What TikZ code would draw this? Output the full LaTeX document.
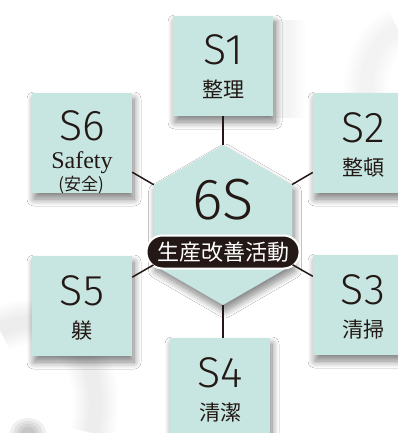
\documentclass[tikz,border=0pt]{standalone}
\usepackage{fontspec}
\setmainfont{Fira Sans Light}
\newfontfamily\cjk{Noto Sans CJK JP}
\newfontfamily\serif{Liberation Serif}
\usetikzlibrary{shapes.geometric,shadows.blur}
\definecolor{mint}{RGB}{199,230,225}
\definecolor{ink}{RGB}{35,24,21}

\begin{document}
\begin{tikzpicture}[x=1pt,y=-1pt,
    soft/.style={blur shadow={shadow xshift=2pt, shadow yshift=-6pt, shadow blur radius=7pt,
      shadow blur steps=12, shadow opacity=50}},
    sbox/.style={fill=mint, minimum width=100pt, minimum height=100pt, inner sep=0pt, soft},
    sname/.style={font=\fontsize{43}{43}\selectfont, text=ink, inner sep=0pt, text height=30pt, text depth=0pt},
    kanji/.style={font=\cjk\fontsize{21}{21}\selectfont, text=ink, inner sep=0pt, text height=17pt, text depth=1pt},
    link/.style={draw=ink, line width=1.5pt}]

    \useasboundingbox (0,0) rectangle (398,433);
    \fill[white] (0,0) rectangle (398,433);

    % faint shapes behind
    \foreach \w in {44,38,32,26,20,14} {
      \draw[line width=\w pt, black, opacity=0.012] (0,330) .. controls (60,300) and (110,360) .. (92,433);
      \draw[line width=\w pt, black, opacity=0.009] (375,140) .. controls (355,90) and (370,40) .. (398,30);
      \draw[line width=\w pt, black, opacity=0.008] (283,20) -- (283,118);
    }
    \foreach \w in {30,24,18,12} {
      \fill[black, opacity=0.06] (28,433) ellipse ({\w*0.6} and \w*0.5);
    }

    % centre
    \node[regular polygon, regular polygon sides=6, shape border rotate=30, minimum size=160pt,
      inner sep=0pt, fill=mint, soft] (hex) at (223,225) {};
    \node[font=\fontsize{58}{58}\selectfont, text=ink, inner sep=0pt] (big) at (223,200) {6S};
    \node[fill=ink, draw=white, line width=2pt, rounded corners=16pt, minimum width=153pt,
      minimum height=33pt, inner sep=0pt, text=white, font=\cjk\fontsize{22}{22}\selectfont]
      (slogan) at (223,252) {生産改善活動};

    % the six S
    \foreach \n/\x/\y/\k in {1/223/66/整理, 2/363/143/整頓, 3/363/305/清掃, 4/220/388/清潔, 5/82/306/躾} {
      \node[sbox] (s\n) at (\x,\y) {};
      \node[sname] (n\n) at (\x,\y-16) {S\n};
      \node[kanji] (k\n) at (\x,\y+24) {\k};
    }
    \node[sbox] (s6) at (82,143) {};
    \node[sname] (n6) at (82,125) {S6};
    \node[font=\serif\fontsize{24}{24}\selectfont, text=ink, inner sep=0pt, text height=17pt,
      text depth=5pt] (k6) at (82,162) {Safety};
    \node[font=\cjk\fontsize{17}{17}\selectfont, text=ink, inner sep=0pt] (j6) at (81,185) {(安全)};

    \draw[link] (s1) -- (hex);
    \draw[link] (s2) -- (hex);
    \draw[link] (s3) -- (hex);
    \draw[link] (s5) -- (hex);
    \draw[link] (s6) -- (hex);
    \draw[link] (hex.south) -- (hex.south |- s4.north);

  \end{tikzpicture}
\end{document}
